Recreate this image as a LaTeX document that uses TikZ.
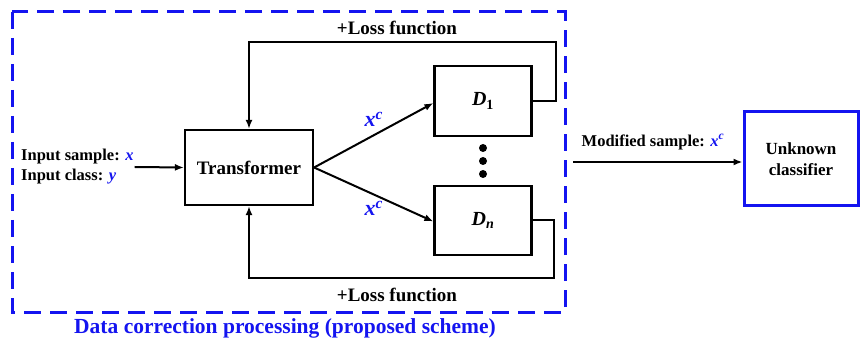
\documentclass[tikz,border=0pt]{standalone}
\usepackage{fontspec}
\setmainfont{Liberation Serif}
\usetikzlibrary{arrows.meta,calc}
\definecolor{schemeblue}{RGB}{20,20,240}
\newcommand{\xc}{{\color{schemeblue}\bfseries\itshape x\textsuperscript{c}}}

\begin{document}
\begin{tikzpicture}[x=1pt, y=-1pt,
	blockbox/.style={draw, line width=2.2pt, inner sep=0pt},
	flow/.style={line width=2pt, -{Latex[length=9pt,width=7pt]}},
	txt/.style={font=\bfseries\fontsize{16.5}{19}\selectfont, inner sep=1pt}]
			%%%%% START %%%%%
			\useasboundingbox (0,0) rectangle (861,347);
			
			% dashed frame of the proposed scheme
			\draw[schemeblue, line width=3pt, dash pattern=on 17pt off 9pt] (12, 12) rectangle (565, 312);
			\node[text=schemeblue, font=\bfseries\fontsize{21.5}{24}\selectfont] (caption) at (285, 328) {Data correction processing (proposed scheme)};
			
			% blocks
			\node[blockbox, minimum width=128pt, minimum height=75pt, font=\bfseries\fontsize{19}{22}\selectfont] (trans) at (249, 167.5) {Transformer};
			\node[blockbox, minimum width=97pt, minimum height=70pt, font=\bfseries\fontsize{20}{22}\selectfont] (d1) at (483, 101) {\textit{D}\textsubscript{1}};
			\node[blockbox, minimum width=97pt, minimum height=69pt, font=\bfseries\fontsize{20}{22}\selectfont] (dn) at (483, 220.5) {\textit{D}\textsubscript{\textit{n}}};
			\node[draw=schemeblue, line width=3pt, minimum width=114pt, minimum height=94pt, align=center, font=\bfseries\fontsize{17}{21}\selectfont] (unk) at (801, 159) {Unknown\\classifier};
			
			% dots between the discriminators
			\fill (483, 148) circle (4);
			\fill (483, 161) circle (4);
			\fill (483, 174) circle (4);
			
			% input
			\node[txt, anchor=west, align=left] (inp) at (20, 167) {Input sample: {\color{schemeblue}\itshape x}\\[1pt]Input class: {\color{schemeblue}\itshape y}};
			\draw[flow] (inp.east) -- (trans.west);
			
			% transformer to discriminators
			\draw[flow] (trans.east) -- ($(d1.west)+(0,2)$) node[pos=0.5, above=4pt, font=\fontsize{22}{24}\selectfont] (xc1) {\xc};
			\draw[flow] (trans.east) -- ($(dn.west)+(0,1)$) node[pos=0.5, below=2pt, font=\fontsize{22}{24}\selectfont] (xcn) {\xc};
			
			% loss feedback loops
			\coordinate (toploop) at (556, 42);
			\coordinate (botloop) at (554, 278);
			\draw[flow] (d1.east) -- (d1.east -| toploop) -- (toploop) -- (toploop -| trans.north) -- (trans.north);
			\draw[flow] (dn.east) -- (dn.east -| botloop) -- (botloop) -- (botloop -| trans.south) -- (trans.south);
			\node[txt, font=\bfseries\fontsize{19}{21}\selectfont] (losstop) at (397, 28) {+Loss function};
			\node[txt, font=\bfseries\fontsize{19}{21}\selectfont] (lossbot) at (397, 295) {+Loss function};
			
			% output
			\coordinate (mout) at (573, 162);
			\draw[flow] (mout) -- (mout -| unk.west);
			\node[txt] (modlab) at (653, 142) {Modified sample: \xc};
			%%%%% END %%%%%
\end{tikzpicture}
\end{document}
